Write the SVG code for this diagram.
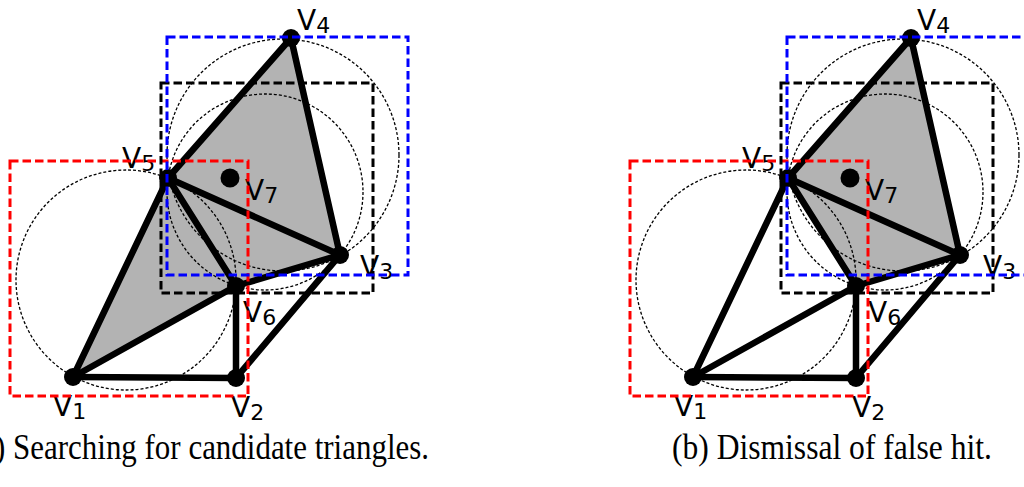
<svg xmlns="http://www.w3.org/2000/svg" width="1024" height="487" viewBox="0 0 1024 487">
<style>
.fill{fill:#b3b3b3;stroke:none}
.edge{stroke:#000;stroke-width:6.5;stroke-linecap:round;fill:none}
.dot{fill:#000}
.lbl{font-family:"DejaVu Sans",sans-serif;font-size:28px;fill:#000}
.sub{font-size:22px}
.circ{fill:none;stroke:#000;stroke-width:1.3;stroke-dasharray:3,2}
.box{fill:none;stroke-width:3;stroke-dasharray:8.5,4}
.red{stroke:#ff0000}
.blue{stroke:#0000ff}
.blk{stroke:#000}
.cap{font-family:"Liberation Serif",serif;font-size:36px;fill:#000}
</style>
<defs>
<g id="edgesDef">
<line x1="73" y1="377" x2="168" y2="178"/>
<line x1="73" y1="377" x2="236" y2="286"/>
<line x1="73" y1="377" x2="236" y2="378"/>
<line x1="236" y1="378" x2="236" y2="286"/>
<line x1="236" y1="378" x2="340" y2="255"/>
<line x1="168" y1="178" x2="291" y2="38"/>
<line x1="291" y1="38" x2="340" y2="255"/>
<line x1="168" y1="178" x2="340" y2="255"/>
<line x1="168" y1="178" x2="236" y2="286"/>
<line x1="236" y1="286" x2="340" y2="255"/>
</g>
<g id="guidesDef">
<circle class="circ" cx="126" cy="280" r="110"/>
<circle class="circ" cx="265" cy="192" r="98"/>
<circle class="circ" cx="283" cy="155" r="116"/>
<rect class="box red" x="10" y="161" width="238" height="235"/>
<rect class="box blk" x="161" y="83" width="212" height="210"/>
<rect class="box blue" x="167" y="37" width="241" height="238"/>
</g>
</defs>

<!-- Panel (a) -->
<g id="panel-a">
<polygon id="a-fill" class="fill" points="73,377 168,178 291,38 340,255 236,286"/>
<g id="a-connectors" class="edge"><use href="#edgesDef"/></g>
<g id="a-v1"><circle class="dot" cx="73" cy="377" r="9"/><text class="lbl" x="53" y="416">V<tspan class="sub" dy="3">1</tspan></text></g>
<g id="a-v2"><circle class="dot" cx="236" cy="378" r="9"/><text class="lbl" x="231" y="417">V<tspan class="sub" dy="3">2</tspan></text></g>
<g id="a-v3"><circle class="dot" cx="340" cy="255" r="9"/><text class="lbl" x="360" y="276">V<tspan class="sub" dy="3">3</tspan></text></g>
<g id="a-v4"><circle class="dot" cx="291" cy="38" r="9"/><text class="lbl" x="297" y="30">V<tspan class="sub" dy="3">4</tspan></text></g>
<g id="a-v5"><circle class="dot" cx="168" cy="178" r="9"/><text class="lbl" x="122" y="168">V<tspan class="sub" dy="3">5</tspan></text></g>
<g id="a-v6"><circle class="dot" cx="236" cy="286" r="9"/><text class="lbl" x="243" y="322">V<tspan class="sub" dy="3">6</tspan></text></g>
<g id="a-v7"><circle class="dot" cx="230" cy="178" r="9.5"/><text class="lbl" x="245" y="200">V<tspan class="sub" dy="3">7</tspan></text></g>
<g id="a-guides"><use href="#guidesDef"/></g>
<text id="a-caption" class="cap" x="-29" y="459" textLength="458" lengthAdjust="spacingAndGlyphs">(a) Searching for candidate triangles.</text>
</g>

<!-- Panel (b) -->
<g id="panel-b">
<polygon id="b-fill" class="fill" points="788,178 911,38 960,255 856,286"/>
<g id="b-connectors" class="edge" transform="translate(620,0)"><use href="#edgesDef"/></g>
<g id="b-v1"><circle class="dot" cx="693" cy="377" r="9"/><text class="lbl" x="674" y="416">V<tspan class="sub" dy="3">1</tspan></text></g>
<g id="b-v2"><circle class="dot" cx="856" cy="378" r="9"/><text class="lbl" x="852" y="417">V<tspan class="sub" dy="3">2</tspan></text></g>
<g id="b-v3"><circle class="dot" cx="960" cy="255" r="9"/><text class="lbl" x="983" y="276">V<tspan class="sub" dy="3">3</tspan></text></g>
<g id="b-v4"><circle class="dot" cx="911" cy="38" r="9"/><text class="lbl" x="917" y="30">V<tspan class="sub" dy="3">4</tspan></text></g>
<g id="b-v5"><circle class="dot" cx="788" cy="178" r="9"/><text class="lbl" x="742" y="168">V<tspan class="sub" dy="3">5</tspan></text></g>
<g id="b-v6"><circle class="dot" cx="856" cy="286" r="9"/><text class="lbl" x="868" y="322">V<tspan class="sub" dy="3">6</tspan></text></g>
<g id="b-v7"><circle class="dot" cx="850" cy="178" r="9.5"/><text class="lbl" x="865" y="200">V<tspan class="sub" dy="3">7</tspan></text></g>
<g id="b-guides" transform="translate(620,0)"><use href="#guidesDef"/></g>
<text id="b-caption" class="cap" x="672" y="459" textLength="320" lengthAdjust="spacingAndGlyphs">(b) Dismissal of false hit.</text>
</g>
</svg>
